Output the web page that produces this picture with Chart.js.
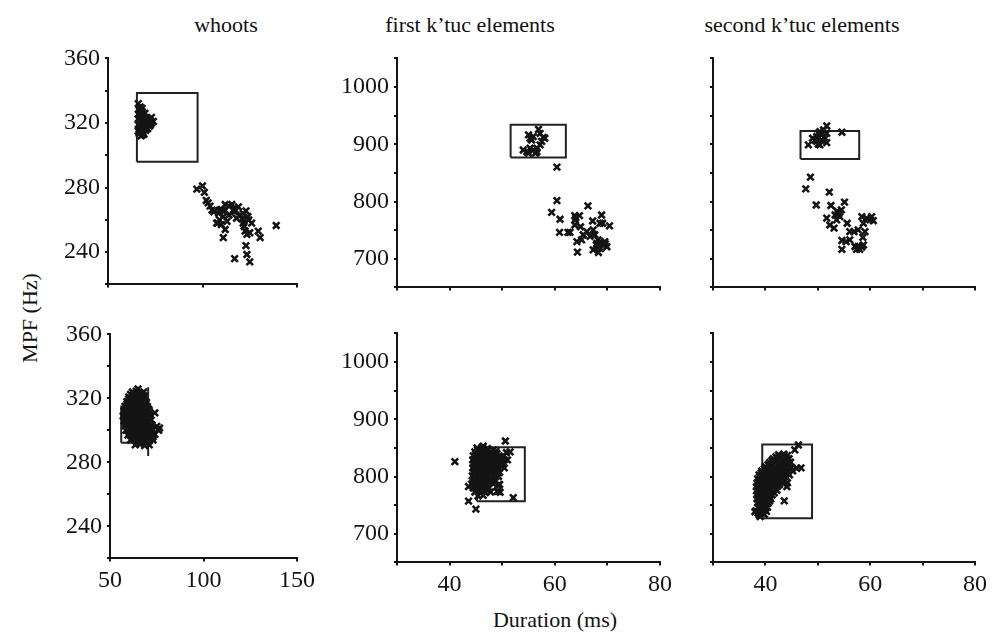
<!DOCTYPE html>
<html lang="en">
<head>
<meta charset="UTF-8">
<title>MPF vs duration</title>
<script src="https://cdn.jsdelivr.net/npm/chart.js"></script>
<style>
    body { margin: 0; background: #fff; }
    #fig { position: relative; width: 998px; height: 636px; overflow: hidden; font-family: "Liberation Serif", serif; color: #111; }
    .panel { position: absolute; }
    .label { position: absolute; font-size: 22px; white-space: nowrap; transform: translate(-50%, -50%); }
    .ylab { transform: translate(-50%, -50%) rotate(-90deg); }
</style>
</head>
<body>
<div id="fig">
    <div class="label" style="left:226px; top:25px">whoots</div>
    <div class="label" style="left:470px; top:25px">first k’tuc elements</div>
    <div class="label" style="left:802px; top:25px">second k’tuc elements</div>
    <div class="label ylab" style="left:30px; top:318px">MPF (Hz)</div>
    <div class="label" style="left:555px; top:620px">Duration (ms)</div>

    <div class="panel" id="w1"><canvas id="c1"></canvas></div>
    <div class="panel" id="w2"><canvas id="c2"></canvas></div>
    <div class="panel" id="w3"><canvas id="c3"></canvas></div>
    <div class="panel" id="w4"><canvas id="c4"></canvas></div>
    <div class="panel" id="w5"><canvas id="c5"></canvas></div>
    <div class="panel" id="w6"><canvas id="c6"></canvas></div>
</div>
<script>
    // tick labels
    const whootsYLabels = [240, 280, 320, 360];
    const whootsXLabels = [50, 100, 150];
    const ktucYLabels = [700, 800, 900, 1000];
    const ktucXLabels = [40, 60, 80];

    // whoots, top row  [duration ms, MPF Hz]
    const whootsTopPts = [
        [66,332],[67,330],[66.5,328],[68,327],[67,325],[69,324],[70.5,323],[72,322],[74,321],[73,320],
        [71,319.5],[69,320.5],[67,321],[66,322.5],[68,318],[70,317],[72,318],[67,316],[66,315],[68.5,314],
        [70,315.5],[67.5,312],[69,313],[66,319],[68,321.5],[71.5,322],[73,323.5],[69.5,326],[68,329],[66,325.5],
        [70,320],[72.5,319],[67,318.5],[69,317.5],[71,316.5],[68,312.5],[66.5,313.5],
        [97,279],[100,281],[101,277],[102,272],[104,268.5],[106,265],[108.5,264],[110,266.5],[112,269.5],[114,268.5],
        [115.5,269.5],[116.5,266.5],[111,262],[109,260],[107.5,258],[113,259],[112,254],[111,249],[118,261],[121.5,264],
        [123,265.5],[124,262],[121.5,258],[122.5,253],[123.5,251],[126,258],[125,252],[129.5,253],[130.5,249],[139,256.5],
        [123,244],[123.5,238.5],[125,234],[117,236],[110,257],[108,258],[112,266],[117,265],[121,260.5],[122,256],
        [105,266],[103,270.5],[109,266],[114,263],[111,265.5],[120,263],[124.5,260],[119,268]
    ];
    const whootsTopBox = [[65.3,296],[65.3,338.5],[97.4,338.5],[97.4,296],[65.3,296]];

    // first k'tuc elements, top row
    const ktuc1TopPts = [
        [54,890],[55,884.5],[55.3,893],[55.9,890],[56.6,893],[56.3,884.5],[57.2,899],[55.6,907.5],[55,916.5],[55.3,910.5],
        [55.9,913.5],[56.9,926],[57.2,919],[57.8,912],[58.1,910.5],[57.5,905],[56.6,887],[54.7,887],
        [60.4,860],[60.4,801.5],[59.4,781],[61,769],[60.9,746],[62.9,746],[63.8,775.5],[63.9,768],[63.8,759],[64.7,775.5],
        [64.9,756],[64.2,730],[64.3,711.5],[65.1,733],[66.3,792.5],[67.2,766],[67.3,750.5],[67.6,742],[68,727],[68.3,721],
        [68.6,730],[69.2,724],[69.5,730],[68.9,776.5],[68.6,762],[69.1,762],[70.4,757.5],[68.3,711],[69.9,721],[67.3,715.5],
        [66.7,739],[65.4,742],[66.1,747.5],[62.5,746],[68.7,718],[69.6,726],[68.2,733],[67.9,724],[64,772]
    ];
    const ktuc1TopBox = [[51.6,876.7],[51.6,934],[62.1,934],[62.1,876.7],[51.6,876.7]];

    // second k'tuc elements, top row
    const ktuc2TopPts = [
        [48.2,899],[49,910.5],[49.5,907.5],[49.8,913.5],[50.1,919],[50.4,922],[50.7,916.5],[51.1,925],[51.7,932],[51.7,919],
        [51.7,903],[50.4,899],[49.8,905],[50.7,907.5],[54.6,921],[50.1,900.5],[51.4,910.5],
        [48.6,842.5],[47.7,822],[52.2,816.5],[49.7,794],[52.5,793],[55.1,799],[51.7,771],[52.3,759],[53.1,753.5],
        [53.3,776.5],[53.9,779.5],[54.2,773.5],[54.5,785.5],[53.6,768],[55.6,762],[56.1,747.5],[56.9,747.5],[57.7,750.5],
        [59,747.5],[58.7,762],[58.4,773.5],[59.3,771],[60,768],[60.6,766.5],[60.3,773.5],[58.6,737.5],[54.6,732],[54.6,716.5],
        [55.4,730],[56.1,733],[57.1,721.5],[57.7,721.5],[58.4,720.5],[57.4,716.5],[58,716.5],[58.7,724],[54,777],[53.7,783]
    ];
    const ktuc2TopBox = [[46.7,874.4],[46.7,923.4],[57.9,923.4],[57.9,874.4],[46.7,874.4]];

    // whoots, bottom row
    const whootsBotPts = [
        [62,324],[64,324.5],[66,323.5],[68,324],[65,326],
        [60,321],[62.5,321.5],[64.5,320.5],[66.5,321],[68.5,321.5],
        [59,318],[61,318.5],[63,317.5],[65,318],[67,318.5],[69.5,317.5],
        [58,315],[60,315.5],[62,314.5],[64,315],[66,315.5],[68,314.5],[70,315],
        [57.5,312],[59.5,312.5],[61.5,311.5],[63.5,312],[65.5,312.5],[67.5,311.5],[69.5,312],[71,312.5],
        [57,309],[59,309.5],[61,308.5],[63,309],[65,309.5],[67,308.5],[69,309],[71.5,309.5],
        [57.5,306],[59.5,306.5],[61.5,305.5],[63.5,306],[65.5,306.5],[67.5,305.5],[69.5,306],[72,306.5],
        [58,303],[60,303.5],[62,302.5],[64,303],[66,303.5],[68,302.5],[70,303],[72.5,303.5],[75,302.5],
        [58.5,300],[60.5,300.5],[62.5,299.5],[64.5,300],[66.5,300.5],[68.5,299.5],[70.5,300],[73,300.5],[76,300],
        [59.5,297],[61.5,297.5],[63.5,296.5],[65.5,297],[67.5,297.5],[69.5,296.5],[72,297],[74,297.5],
        [61,294],[63,294.5],[65,293.5],[67,294],[69,294.5],[71,293.5],[73,294],
        [63.5,291],[66,291.5],[68.5,290.5],[71,291],
        [74,311],[76.5,301.5],[73,296],
        [61,322.5],[63,322.5],[65,322],[67,322.5],
        [60,319.5],[62,319.5],[64,319],[66,319.5],[68,320],
        [59,316.5],[61,316.5],[63,316],[65,316.5],[67,317],[69,316.5],
        [58.5,313.5],[60.5,313.5],[62.5,313],[64.5,313.5],[66.5,314],[68.5,313.5],[70.5,313.5],
        [58,310.5],[60,310.5],[62,310],[64,310.5],[66,311],[68,310.5],[70,310.5],
        [58,307.5],[60,307.5],[62,307],[64,307.5],[66,308],[68,307.5],[70.5,307.5],
        [58.5,304.5],[60.5,304.5],[62.5,304],[64.5,304.5],[66.5,305],[68.5,304.5],[71,304.5],
        [59.5,301.5],[61.5,301.5],[63.5,301],[65.5,301.5],[67.5,302],[69.5,301.5],[71.5,301.5],
        [60.5,298.5],[62.5,298.5],[64.5,298],[66.5,298.5],[68.5,299],[70.5,298.5],
        [62,295.5],[64,295.5],[66,295],[68,295.5],[70,295.5],
        [64.5,292.5],[67,292.5],[69.5,292]
    ];
    const whootsBotBox = [[56,292.3],[56,315],[70.4,315],[70.4,327],[70.4,284],[70.4,292.3],[56,292.3]];

    // first k'tuc elements, bottom row
    const ktuc1BotPts = [
        [45.2,850],[46.2,851],[47.2,849],
        [44.8,843],[45.8,844],[46.8,842],[47.8,843],[48.8,844],[50.8,842],
        [44.5,836],[45.5,837],[46.5,835],[47.5,836],[48.5,837],[49.5,835],
        [44.4,829],[45.4,830],[46.4,828],[47.4,829],[48.4,830],[49.4,828],[50.4,829],
        [44.5,822],[45.5,823],[46.5,821],[47.5,822],[48.5,823],[49.5,821],[50.2,822],
        [44.4,815],[45.4,816],[46.4,814],[47.4,815],[48.4,816],[49.4,814],[50.4,815],
        [44.5,808],[45.5,809],[46.5,807],[47.5,808],[48.5,809],[49.5,807],
        [44.3,801],[45.3,802],[46.3,800],[47.3,801],[48.3,802],[49.3,800],
        [44.4,794],[45.4,795],[46.4,793],[47.4,794],[48.4,795],
        [44.2,787],[45.2,788],[46.2,786],[47.2,787],[48.2,788],[49.5,786],
        [44.5,780],[45.5,781],[46.5,779],[47.5,780],
        [44.8,773],[45.8,774],[46.8,772],[47.8,773],[49.2,774],
        [45.4,766],[46.4,767],
        [41,826],[45,743],[43.6,757],[50.6,862],[52.1,763],[51.5,843],[49.2,785],[49,774],[49.6,772.5],
        [43.6,782.5],[46.4,853],[50.3,836],[51,829],
        [45.3,846.5],[46.3,846.5],[47.3,846],[48.3,846.5],
        [45,839.5],[46,839.5],[47,839],[48,839.5],[49,840],
        [44.9,832.5],[45.9,832.5],[46.9,832],[47.9,832.5],[48.9,833],[49.9,832.5],
        [44.9,825.5],[45.9,825.5],[46.9,825],[47.9,825.5],[48.9,826],[49.9,825.5],
        [44.9,818.5],[45.9,818.5],[46.9,818],[47.9,818.5],[48.9,819],[49.9,818.5],
        [44.9,811.5],[45.9,811.5],[46.9,811],[47.9,811.5],[48.9,812],
        [44.8,804.5],[45.8,804.5],[46.8,804],[47.8,804.5],[48.8,805],
        [44.8,797.5],[45.8,797.5],[46.8,797],[47.8,797.5],
        [44.7,790.5],[45.7,790.5],[46.7,790],[47.7,790.5],[48.7,791],
        [44.9,783.5],[45.9,783.5],[46.9,783],
        [45.2,776.5],[46.2,776.5],[47.2,776]
    ];
    const ktuc1BotBox = [[45.2,757],[45.2,851],[54.3,851],[54.3,757],[45.2,757]];

    // second k'tuc elements, bottom row
    const ktuc2BotPts = [
        [42.5,838],[43.5,839],[44.2,837],
        [41.5,831],[42.5,832],[43.5,830],[44.5,831],
        [40.8,824],[41.8,825],[42.8,823],[43.8,824],[44.8,825],
        [40,817],[41,818],[42,816],[43,817],[44,818],[45,816],
        [39.3,810],[40.3,811],[41.3,809],[42.3,810],[43.3,811],[44.3,809],[45.2,810],
        [38.8,803],[39.8,804],[40.8,802],[41.8,803],[42.8,804],[43.8,802],[44.6,803],
        [38.5,796],[39.5,797],[40.5,795],[41.5,796],[42.5,797],[43.5,795],
        [38.4,789],[39.4,790],[40.4,788],[41.4,789],[42.4,790],[43.4,788],[44.2,789],
        [38.3,782],[39.3,783],[40.3,781],[41.3,782],[42.3,783],
        [38.3,775],[39.3,776],[40.3,774],[41.3,775],[42.2,776],
        [38.4,768],[39.4,769],[40.4,767],[41.3,768],
        [38.4,761],[39.4,762],[40.4,760],[41,761],
        [38.5,754],[39.5,755],[40.5,753],
        [38.6,747],[39.6,748],[40.4,746],
        [38.2,740],[39.2,741],[40.2,739],
        [38.8,733],[39.8,734],
        [46.3,855],[45.6,846.5],[46,814.5],[43.6,757.5],[43.5,838],[38,738.5],[39,730],[44.1,782.5],[46.8,815],
        [42,834.5],[43,834.5],[44,834],
        [41.2,827.5],[42.2,827.5],[43.2,827],[44.2,827.5],
        [40.5,820.5],[41.5,820.5],[42.5,820],[43.5,820.5],[44.5,821],
        [39.8,813.5],[40.8,813.5],[41.8,813],[42.8,813.5],[43.8,814],
        [39.2,806.5],[40.2,806.5],[41.2,806],[42.2,806.5],[43.2,807],[44.2,806.5],
        [38.9,799.5],[39.9,799.5],[40.9,799],[41.9,799.5],[42.9,800],[43.9,799.5],
        [38.8,792.5],[39.8,792.5],[40.8,792],[41.8,792.5],[42.8,793],[43.8,792.5],
        [38.7,785.5],[39.7,785.5],[40.7,785],[41.7,785.5],[42.7,786],
        [38.7,778.5],[39.7,778.5],[40.7,778],[41.7,778.5],
        [38.8,771.5],[39.8,771.5],[40.8,771],[41.7,771.5],
        [38.8,764.5],[39.8,764.5],[40.8,764],
        [38.9,757.5],[39.9,757.5],[40.8,757],
        [39,750.5],[40,750.5],
        [38.9,743.5],[39.9,743.5],
        [38.6,736.5],[39.5,736]
    ];
    const ktuc2BotBox = [[39.4,727],[39.4,856],[48.9,856],[48.9,727],[39.4,727]];

    const INK = '#141414';
    const tickFont = { family: 'Liberation Serif', size: 24 };

    function toXY(list) {
        return list.map(p => ({ x: p[0], y: p[1] }));
    }

    // area = [left, top, right, bottom] of the plot area on the page
    function makePanel(n, area, xr, yr, pts, box, xLabels, yLabels) {
        const wrap = document.getElementById('w' + n);
        const canvas = document.getElementById('c' + n);
        const yW = 66, xH = 42, padTop = 18, padRight = 28;
        canvas.width = yW + (area[2] - area[0]) + padRight;
        canvas.height = padTop + (area[3] - area[1]) + xH;

        const chart = new Chart(canvas, {
            type: 'scatter',
            data: {
                datasets: [
                    {
                        data: toXY(pts),
                        pointStyle: 'crossRot',
                        pointRadius: 4.6,
                        borderWidth: 2.6,
                        borderColor: INK,
                        backgroundColor: INK
                    },
                    {
                        data: toXY(box),
                        showLine: true,
                        pointRadius: 0,
                        borderWidth: 2,
                        borderColor: '#222',
                        fill: false,
                        tension: 0
                    }
                ]
            },
            options: {
                responsive: false,
                maintainAspectRatio: false,
                animation: false,
                events: [],
                layout: { padding: { top: padTop, right: padRight, left: 0, bottom: 0 } },
                plugins: { legend: { display: false }, tooltip: { enabled: false } },
                scales: {
                    x: {
                        type: 'linear',
                        min: xr[0], max: xr[1],
                        ticks: {
                            stepSize: xr[2], autoSkip: false, maxRotation: 0,
                            color: INK, font: tickFont, padding: 5,
                            callback: v => xLabels.includes(v) ? String(v) : ''
                        },
                        grid: { drawOnChartArea: false, tickLength: 3, color: INK, lineWidth: 2 },
                        border: { display: true, color: INK, width: 2 },
                        afterFit: s => { s.height = xH; }
                    },
                    y: {
                        type: 'linear',
                        min: yr[0], max: yr[1],
                        ticks: {
                            stepSize: yr[2], autoSkip: false,
                            color: INK, font: tickFont, padding: 5,
                            callback: v => yLabels.includes(v) ? String(v) : ''
                        },
                        grid: { drawOnChartArea: false, tickLength: 3, color: INK, lineWidth: 2 },
                        border: { display: true, color: INK, width: 2 },
                        afterFit: s => { s.width = yW; }
                    }
                }
            }
        });

        // line the plot area up with the reference
        const ca = chart.chartArea;
        const dw = (area[2] - area[0]) - (ca.right - ca.left);
        const dh = (area[3] - area[1]) - (ca.bottom - ca.top);
        if (Math.abs(dw) > 0.5 || Math.abs(dh) > 0.5) {
            chart.resize(chart.width + dw, chart.height + dh);
        }
        wrap.style.left = (area[0] - chart.chartArea.left) + 'px';
        wrap.style.top = (area[1] - chart.chartArea.top) + 'px';
        return chart;
    }

    makePanel(1, [108, 58, 297, 284], [50, 150, 50], [220, 360, 20], whootsTopPts, whootsTopBox, [], whootsYLabels);
    makePanel(2, [397, 58, 660, 287], [30, 80, 10], [650, 1050, 50], ktuc1TopPts, ktuc1TopBox, [], ktucYLabels);
    makePanel(3, [713, 58, 975, 287], [30, 80, 10], [650, 1050, 50], ktuc2TopPts, ktuc2TopBox, [], []);
    makePanel(4, [110, 334, 297, 558], [50, 150, 50], [220, 360, 20], whootsBotPts, whootsBotBox, whootsXLabels, whootsYLabels);
    makePanel(5, [397, 333, 660, 562], [30, 80, 10], [650, 1050, 50], ktuc1BotPts, ktuc1BotBox, ktucXLabels, ktucYLabels);
    makePanel(6, [713, 333, 975, 562], [30, 80, 10], [650, 1050, 50], ktuc2BotPts, ktuc2BotBox, ktucXLabels, []);
</script>
</body>
</html>
